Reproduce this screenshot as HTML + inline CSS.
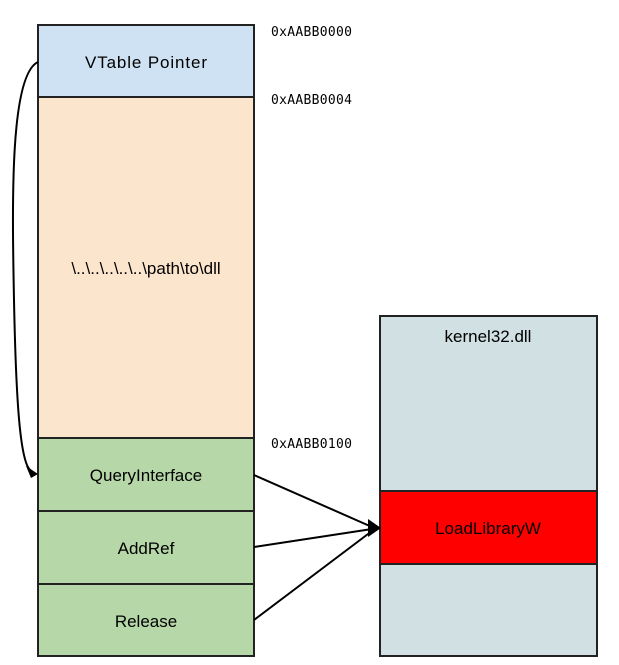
<!DOCTYPE html>
<html><head><style>body{margin:0;background:#fff}svg{display:block}</style></head><body>
<svg width="619" height="665" xmlns="http://www.w3.org/2000/svg" font-family="Liberation Sans, Arial, sans-serif">
<g stroke="#222" stroke-width="2">
<rect x="38" y="25" width="216" height="72" fill="#cfe2f3"/>
<rect x="38" y="97" width="216" height="341" fill="#fce5cd"/>
<rect x="38" y="438" width="216" height="73" fill="#b6d7a8"/>
<rect x="38" y="511" width="216" height="73" fill="#b6d7a8"/>
<rect x="38" y="584" width="216" height="72" fill="#b6d7a8"/>
<rect x="380" y="316" width="217" height="340" fill="#d0e0e3"/>
<rect x="380" y="491" width="217" height="73" fill="#ff0000"/>
</g>
<g font-size="17" text-anchor="middle" fill="#000">
<text x="146" y="68" textLength="122">VTable Pointer</text>
<text x="146" y="274">\..\..\..\..\..\path\to\dll</text>
<text x="146" y="481">QueryInterface</text>
<text x="146" y="554">AddRef</text>
<text x="146" y="627">Release</text>
<text x="488" y="342">kernel32.dll</text>
<text x="488" y="534">LoadLibraryW</text>
</g>
<g font-family="DejaVu Sans Mono, Liberation Mono, monospace" font-size="13" fill="#000">
<text x="271" y="36" textLength="81">0xAABB0000</text>
<text x="271" y="104" textLength="81">0xAABB0004</text>
<text x="271" y="448" textLength="81">0xAABB0100</text>
</g>
<g stroke="#000" stroke-width="2" fill="none">
<path d="M38 62 C 10 75, 12 200, 14 300 S 20 460, 30 470"/>
<line x1="254" y1="475" x2="372" y2="527"/>
<line x1="254" y1="547" x2="372" y2="529"/>
<line x1="254" y1="620" x2="372" y2="531"/>
</g>
<polygon points="38,474 26,466 31,478" fill="#000"/>
<polygon points="381,528 368,519 368,537" fill="#000"/>
</svg>
</body></html>
